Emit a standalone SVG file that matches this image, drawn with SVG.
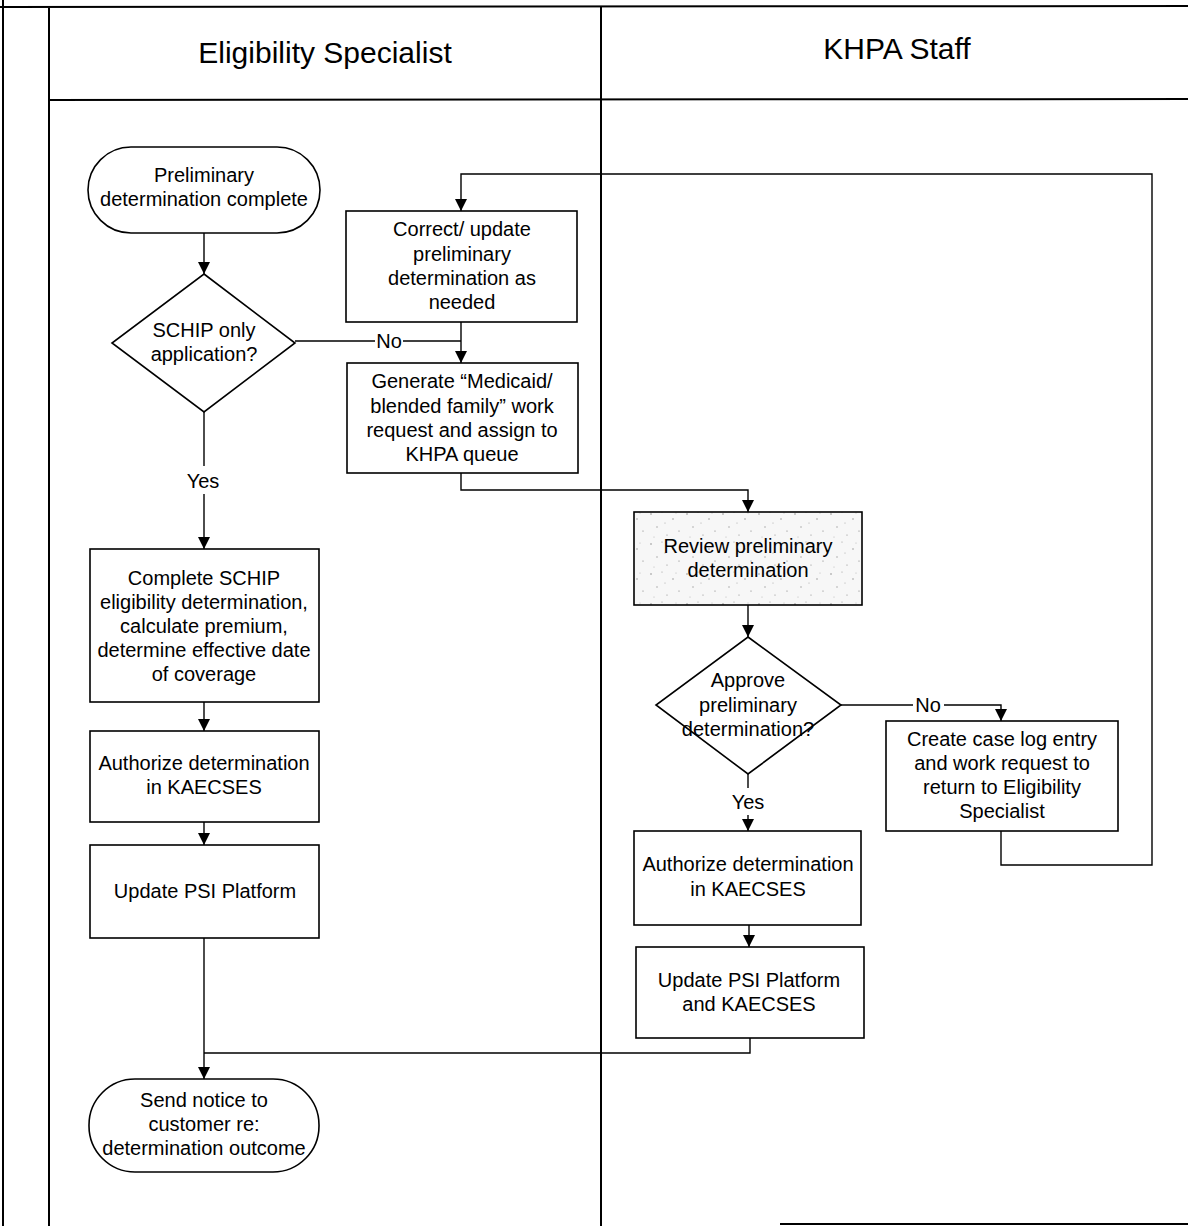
<svg xmlns="http://www.w3.org/2000/svg" width="1188" height="1226" viewBox="0 0 1188 1226">
  <style>
    .frame { stroke: #000; stroke-width: 2; fill: none; }
    .shape { stroke: #000; stroke-width: 1.6; fill: #fff; }
    .conn { stroke: #000; stroke-width: 1.4; fill: none; }
    .hdr { font-family: "Liberation Sans", Arial, sans-serif; font-size: 30px; fill: #000; text-anchor: middle; }
    .lbl { font-family: "Liberation Sans", Arial, sans-serif; font-size: 20px; fill: #000; text-anchor: middle; }
  </style>
  <defs>
    <marker id="arrow" viewBox="0 0 12 12" refX="12" refY="6" markerWidth="12" markerHeight="12" markerUnits="userSpaceOnUse" orient="auto">
      <path d="M0,0 L12,6 L0,12 Z" fill="#000"/>
    </marker>
    <!-- stippled fill for the review step -->
    <pattern id="stipple" width="36" height="30" patternUnits="userSpaceOnUse">
      <rect width="36" height="30" fill="#f7f7f7"/>
      <circle cx="3" cy="4" r="0.7" fill="#777"/>
      <circle cx="14" cy="2" r="0.6" fill="#999"/>
      <circle cx="25" cy="9" r="0.7" fill="#888"/>
      <circle cx="31" cy="21" r="0.6" fill="#777"/>
      <circle cx="9" cy="17" r="0.7" fill="#999"/>
      <circle cx="19" cy="25" r="0.6" fill="#888"/>
      <circle cx="28" cy="3" r="0.5" fill="#aaa"/>
      <circle cx="6" cy="27" r="0.5" fill="#aaa"/>
      <circle cx="17" cy="13" r="0.5" fill="#999"/>
    </pattern>
  </defs>

  <rect width="1188" height="1226" fill="#fff"/>

  <!-- swimlane frame -->
  <g id="lanes">
    <line class="frame" x1="0" y1="7" x2="1188" y2="6"/>
    <line class="frame" x1="3" y1="0" x2="3" y2="1226"/>
    <line class="frame" x1="49" y1="8" x2="49" y2="1226"/>
    <line class="frame" x1="601" y1="7" x2="601" y2="1226"/>
    <line class="frame" x1="49" y1="100" x2="1188" y2="99"/>
    <line class="frame" x1="780" y1="1224" x2="1188" y2="1224"/>
    <text class="hdr" x="325" y="63">Eligibility Specialist</text>
    <text class="hdr" x="897" y="59">KHPA Staff</text>
  </g>

  <!-- connectors -->
  <g id="connectors">
    <line class="conn" x1="204" y1="233" x2="204" y2="274" marker-end="url(#arrow)"/>
    <polyline class="conn" points="295,341 375,341"/>
    <polyline class="conn" points="403,341 461,341"/>
    <line class="conn" x1="461" y1="322" x2="461" y2="363" marker-end="url(#arrow)"/>
    <line class="conn" x1="204" y1="412" x2="204" y2="466"/>
    <line class="conn" x1="204" y1="494" x2="204" y2="549" marker-end="url(#arrow)"/>
    <polyline class="conn" points="461,473 461,490 748,490 748,512" marker-end="url(#arrow)"/>
    <line class="conn" x1="748" y1="605" x2="748" y2="637" marker-end="url(#arrow)"/>
    <polyline class="conn" points="841,705 913,705"/>
    <polyline class="conn" points="944,705 1001,705 1001,721" marker-end="url(#arrow)"/>
    <line class="conn" x1="748" y1="774" x2="748" y2="788"/>
    <line class="conn" x1="748" y1="815" x2="748" y2="831" marker-end="url(#arrow)"/>
    <polyline class="conn" points="1001,831 1001,865 1152,865 1152,174 461,174 461,211" marker-end="url(#arrow)"/>
    <line class="conn" x1="749" y1="925" x2="749" y2="947" marker-end="url(#arrow)"/>
    <line class="conn" x1="204" y1="702" x2="204" y2="731" marker-end="url(#arrow)"/>
    <line class="conn" x1="204" y1="822" x2="204" y2="845" marker-end="url(#arrow)"/>
    <line class="conn" x1="204" y1="938" x2="204" y2="1079" marker-end="url(#arrow)"/>
    <polyline class="conn" points="750,1038 750,1053 204,1053"/>
    <text class="lbl" x="389" y="348">No</text>
    <text class="lbl" x="928" y="712">No</text>
    <text class="lbl" x="203" y="488">Yes</text>
    <text class="lbl" x="748" y="809">Yes</text>
  </g>

  <!-- Eligibility Specialist lane -->
  <g id="start">
    <rect class="shape" x="88" y="147" width="232" height="86" rx="43" ry="43"/>
    <text class="lbl" x="204" y="182">Preliminary</text>
    <text class="lbl" x="204" y="206">determination complete</text>
  </g>
  <g id="schip-only">
    <polygon class="shape" points="204,274 295,343 204,412 112,343"/>
    <text class="lbl" x="204" y="337">SCHIP only</text>
    <text class="lbl" x="204" y="361">application?</text>
  </g>
  <g id="correct-update">
    <rect class="shape" x="346" y="211" width="231" height="111"/>
    <text class="lbl" x="462" y="236">Correct/ update</text>
    <text class="lbl" x="462" y="261">preliminary</text>
    <text class="lbl" x="462" y="285">determination as</text>
    <text class="lbl" x="462" y="309">needed</text>
  </g>
  <g id="generate-request">
    <rect class="shape" x="347" y="363" width="231" height="110"/>
    <text class="lbl" x="462" y="388">Generate “Medicaid/</text>
    <text class="lbl" x="462" y="413">blended family” work</text>
    <text class="lbl" x="462" y="437">request and assign to</text>
    <text class="lbl" x="462" y="461">KHPA queue</text>
  </g>
  <g id="complete-schip">
    <rect class="shape" x="90" y="549" width="229" height="153"/>
    <text class="lbl" x="204" y="585">Complete SCHIP</text>
    <text class="lbl" x="204" y="609">eligibility determination,</text>
    <text class="lbl" x="204" y="633">calculate premium,</text>
    <text class="lbl" x="204" y="657">determine effective date</text>
    <text class="lbl" x="204" y="681">of coverage</text>
  </g>
  <g id="authorize-es">
    <rect class="shape" x="90" y="731" width="229" height="91"/>
    <text class="lbl" x="204" y="770">Authorize determination</text>
    <text class="lbl" x="204" y="794">in KAECSES</text>
  </g>
  <g id="update-psi">
    <rect class="shape" x="90" y="845" width="229" height="93"/>
    <text class="lbl" x="205" y="898">Update PSI Platform</text>
  </g>
  <g id="send-notice">
    <rect class="shape" x="89" y="1079" width="230" height="93" rx="46" ry="46"/>
    <text class="lbl" x="204" y="1107">Send notice to</text>
    <text class="lbl" x="204" y="1131">customer re:</text>
    <text class="lbl" x="204" y="1155">determination outcome</text>
  </g>

  <!-- KHPA Staff lane -->
  <g id="review">
    <rect class="shape" x="634" y="512" width="228" height="93" fill="url(#stipple)" style="fill:url(#stipple)"/>
    <text class="lbl" x="748" y="553">Review preliminary</text>
    <text class="lbl" x="748" y="577">determination</text>
  </g>
  <g id="approve">
    <polygon class="shape" points="748,637 841,705 748,774 656,705"/>
    <text class="lbl" x="748" y="687">Approve</text>
    <text class="lbl" x="748" y="712">preliminary</text>
    <text class="lbl" x="748" y="736">determination?</text>
  </g>
  <g id="case-log">
    <rect class="shape" x="886" y="721" width="232" height="110"/>
    <text class="lbl" x="1002" y="746">Create case log entry</text>
    <text class="lbl" x="1002" y="770">and work request to</text>
    <text class="lbl" x="1002" y="794">return to Eligibility</text>
    <text class="lbl" x="1002" y="818">Specialist</text>
  </g>
  <g id="authorize-khpa">
    <rect class="shape" x="634" y="831" width="227" height="94"/>
    <text class="lbl" x="748" y="871">Authorize determination</text>
    <text class="lbl" x="748" y="896">in KAECSES</text>
  </g>
  <g id="update-psi-kaecses">
    <rect class="shape" x="636" y="947" width="228" height="91"/>
    <text class="lbl" x="749" y="987">Update PSI Platform</text>
    <text class="lbl" x="749" y="1011">and KAECSES</text>
  </g>
</svg>
